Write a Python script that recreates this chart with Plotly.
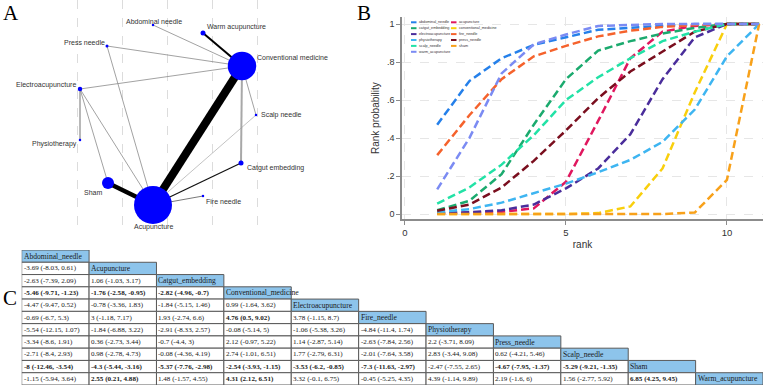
import plotly.graph_objects as go

W, H = 767, 387

def px(x):
    return x / W

def py(y):
    return 1 - y / H

# ---------------- Panel A: network ----------------
node_names = ["Abdominal needle", "Acupuncture", "Catgut embedding", "Conventional medicine",
              "Electroacupuncture", "Fire needle", "Physiotherapy", "Press needle",
              "Scalp needle", "Sham", "Warm acupuncture"]
node_x = [153, 153, 241, 242, 80, 203, 80, 107, 256, 108, 203]
node_y = [25, 205, 163, 66, 89, 196, 140, 46, 115, 183, 33]
node_size = [2.5, 38, 5, 28.5, 4.5, 2.5, 2.5, 3, 2.5, 12, 5]

edge_from = [3, 9, 10, 2, 3, 4, 0, 7, 7, 4, 4, 4, 3, 8, 5]
edge_to = [1, 1, 3, 1, 2, 6, 3, 3, 1, 3, 9, 1, 8, 1, 1]
edge_width = [8, 4.3, 2, 1.3, 2, 1.5, 0.8, 0.8, 0.8, 0.8, 0.8, 0.8, 0.8, 0.6, 0.8]
edge_color = ["#000000", "#000000", "#000000", "#111111", "#a8a8a8", "#a0a0a0", "#8a8a8a",
              "#8a8a8a", "#8a8a8a", "#8a8a8a", "#8a8a8a", "#8a8a8a", "#8a8a8a", "#9a9a9a", "#555555"]

label_anchor = ["center", "center", "left", "left", "right", "left", "right", "right", "left", "right", "left"]
label_dx = [1, 0, 4, 13, -2, 1, -1, 0, 3, -4, 2]
label_dy = [-4, 22, 5, -9, -4, 5, 4, -4, 0, 9, -6]

# ---------------- Panel B: rank probabilities ----------------
ranks = list(range(1, 12))
rank_names = ["abdominal_needle", "acupuncture", "catgut_embedding", "conventional_medicine",
              "electroacupuncture", "fire_needle", "physiotherapy", "press_needle",
              "scalp_needle", "sham", "warm_acupuncture"]
abdominal_needle = [0.47, 0.70, 0.82, 0.89, 0.93, 0.97, 0.98, 0.99, 1.0, 1.0, 1.0]
acupuncture = [0.003, 0.006, 0.012, 0.03, 0.17, 0.49, 0.82, 0.96, 0.99, 1.0, 1.0]
catgut_embedding = [0.02, 0.07, 0.21, 0.47, 0.71, 0.86, 0.91, 0.95, 0.98, 1.0, 1.0]
conventional_medicine = [0.0, 0.0, 0.0, 0.0, 0.0, 0.005, 0.04, 0.24, 0.64, 1.0, 1.0]
electroacupuncture = [0.005, 0.01, 0.02, 0.05, 0.135, 0.24, 0.42, 0.71, 0.93, 1.0, 1.0]
fire_needle = [0.31, 0.52, 0.71, 0.83, 0.885, 0.935, 0.965, 0.985, 0.995, 1.0, 1.0]
physiotherapy = [0.01, 0.026, 0.06, 0.11, 0.16, 0.22, 0.285, 0.38, 0.55, 0.83, 1.0]
press_needle = [0.017, 0.05, 0.14, 0.28, 0.44, 0.61, 0.75, 0.855, 0.96, 1.0, 1.0]
scalp_needle = [0.055, 0.14, 0.26, 0.415, 0.60, 0.72, 0.82, 0.91, 0.96, 1.0, 1.0]
sham = [0.0, 0.0, 0.0, 0.0, 0.0, 0.0, 0.0, 0.0, 0.008, 0.18, 1.0]
warm_acupuncture = [0.13, 0.40, 0.74, 0.893, 0.945, 0.99, 0.995, 1.0, 1.0, 1.0, 1.0]
rank_series = [abdominal_needle, acupuncture, catgut_embedding, conventional_medicine,
               electroacupuncture, fire_needle, physiotherapy, press_needle,
               scalp_needle, sham, warm_acupuncture]
rank_colors = ["#2580EA", "#E0175E", "#1BAA6E", "#F9CF0C", "#4A2D9B", "#F5622C",
               "#3EB5F1", "#7A0E1E", "#22E2A6", "#F8A11A", "#7B8BF3"]
y_tickvals = [0, 0.2, 0.4, 0.6, 0.8, 1]
y_ticktext = ["0", ".2", ".4", ".6", ".8", "1"]
x_tickvals = [0, 5, 10]

# ---------------- Panel C: league table ----------------
league_names = ["Abdominal_needle", "Acupuncture", "Catgut_embedding", "Conventional_medicine",
                "Electroacupuncture", "Fire_needle", "Physiotherapy", "Press_needle",
                "Scalp_needle", "Sham", "Warm_acupuncture"]
league_rows = [
    [],
    ["-3.69 (-8.03, 0.61)"],
    ["-2.63 (-7.39, 2.09)", "1.06 (-1.03, 3.17)"],
    ["-5.46 (-9.71, -1.23)", "-1.76 (-2.58, -0.95)", "-2.82 (-4.96, -0.7)"],
    ["-4.47 (-9.47, 0.52)", "-0.78 (-3.36, 1.83)", "-1.84 (-5.15, 1.46)", "0.99 (-1.64, 3.62)"],
    ["-0.69 (-6.7, 5.3)", "3 (-1.18, 7.17)", "1.93 (-2.74, 6.6)", "4.76 (0.5, 9.02)", "3.78 (-1.15, 8.7)"],
    ["-5.54 (-12.15, 1.07)", "-1.84 (-6.88, 3.22)", "-2.91 (-8.33, 2.57)", "-0.08 (-5.14, 5)",
     "-1.06 (-5.38, 3.26)", "-4.84 (-11.4, 1.74)"],
    ["-3.34 (-8.6, 1.91)", "0.36 (-2.73, 3.44)", "-0.7 (-4.4, 3)", "2.12 (-0.97, 5.22)",
     "1.14 (-2.87, 5.14)", "-2.63 (-7.84, 2.56)", "2.2 (-3.71, 8.09)"],
    ["-2.71 (-8.4, 2.93)", "0.98 (-2.78, 4.73)", "-0.08 (-4.36, 4.19)", "2.74 (-1.01, 6.51)",
     "1.77 (-2.79, 6.31)", "-2.01 (-7.64, 3.58)", "2.83 (-3.44, 9.08)", "0.62 (-4.21, 5.46)"],
    ["-8 (-12.46, -3.54)", "-4.3 (-5.44, -3.16)", "-5.37 (-7.76, -2.98)", "-2.54 (-3.93, -1.15)",
     "-3.53 (-6.2, -0.85)", "-7.3 (-11.63, -2.97)", "-2.47 (-7.55, 2.65)", "-4.67 (-7.95, -1.37)",
     "-5.29 (-9.21, -1.35)"],
    ["-1.15 (-5.94, 3.64)", "2.55 (0.21, 4.88)", "1.48 (-1.57, 4.55)", "4.31 (2.12, 6.51)",
     "3.32 (-0.1, 6.75)", "-0.45 (-5.25, 4.35)", "4.39 (-1.14, 9.89)", "2.19 (-1.6, 6)",
     "1.56 (-2.77, 5.92)", "6.85 (4.25, 9.45)"],
]

fig = go.Figure()

# --- Panel A traces
for f, t, w, c in zip(edge_from, edge_to, edge_width, edge_color):
    fig.add_trace(go.Scatter(x=[node_x[f], node_x[t]], y=[node_y[f], node_y[t]], mode="lines",
                             line=dict(color=c, width=w), xaxis="x2", yaxis="y2",
                             hoverinfo="skip", showlegend=False))
fig.add_trace(go.Scatter(x=node_x, y=node_y, mode="markers",
                         marker=dict(size=node_size, color="#0000FF", opacity=1, line=dict(width=0)),
                         text=node_names, xaxis="x2", yaxis="y2", showlegend=False))

annotations = []
shapes = []
for i, name in enumerate(node_names):
    annotations.append(dict(x=node_x[i], y=node_y[i], xref="x2", yref="y2", text=name,
                            showarrow=False, xanchor=label_anchor[i], yanchor="middle",
                            xshift=label_dx[i], yshift=-label_dy[i],
                            font=dict(family="Liberation Sans", size=7, color="#333333")))

# --- Panel B traces
for name, vals, col in zip(rank_names, rank_series, rank_colors):
    fig.add_trace(go.Scatter(x=ranks, y=vals, mode="lines", name=name,
                             line=dict(color=col, width=2.5, dash="8px,4px"),
                             xaxis="x", yaxis="y", showlegend=False))

# manual compact legend (two columns)
for k, (name, col) in enumerate(zip(rank_names, rank_colors)):
    c, r = k % 2, k // 2
    sx = 411 + c * 40
    sy = 22.3 + r * 5.9
    shapes.append(dict(type="line", xref="paper", yref="paper", x0=px(sx), x1=px(sx + 5.5),
                       y0=py(sy), y1=py(sy), line=dict(color=col, width=2)))
    annotations.append(dict(x=px(sx + 5.5), y=py(sy), xref="paper", yref="paper", text=name,
                            showarrow=False, xanchor="left", yanchor="middle",
                            font=dict(family="Liberation Sans", size=3.7, color="#333333")))

# --- Panel C table
def is_sig(s):
    inner = s[s.index("(") + 1:s.index(")")]
    lo, hi = [float(v) for v in inner.split(",")]
    return lo * hi > 0

for i in range(len(league_names)):
    for j in range(i + 1):
        diag = (i == j)
        shapes.append(dict(type="rect", xref="x3", yref="y3", x0=j, x1=j + 1, y0=i, y1=i + 1,
                           fillcolor="#8DC4EB" if diag else "#FFFFFF",
                           line=dict(color="#5a5a5a", width=1), layer="below"))
        if diag:
            txt = league_names[i]
            fsize = 7.6
        else:
            s = league_rows[i][j]
            txt = "<b>" + s + "</b>" if is_sig(s) else s
            fsize = 7.1
        annotations.append(dict(x=j, y=i + 0.5, xref="x3", yref="y3", text=txt, showarrow=False,
                                xanchor="left", yanchor="middle", xshift=0,
                                font=dict(family="Liberation Serif", size=fsize, color="#1a1a1a")))

# panel letters
for letter, lx, ly in [("A", 11, 13), ("B", 364, 13), ("C", 10, 298)]:
    annotations.append(dict(x=px(lx), y=py(ly), xref="paper", yref="paper", text=letter,
                            showarrow=False, xanchor="center", yanchor="middle",
                            font=dict(family="Liberation Serif", size=21, color="#000000")))

# y title for B
annotations.append(dict(x=px(376), y=py(118), xref="paper", yref="paper", text="Rank probability",
                        showarrow=False, textangle=-90, xanchor="center", yanchor="middle",
                        font=dict(family="Liberation Sans", size=10, color="#333333")))

fig.update_layout(
    width=W, height=H, margin=dict(l=0, r=0, t=0, b=0),
    paper_bgcolor="white", plot_bgcolor="white", showlegend=False,
    xaxis=dict(domain=[px(402), px(763)], range=[-0.093, 11.12], tickvals=x_tickvals,
               showline=True, linecolor="#8c8c8c", linewidth=1.5, ticks="outside", ticklen=4,
               tickcolor="#8c8c8c", tickfont=dict(family="Liberation Sans", size=9.5, color="#333"),
               showgrid=True, gridcolor="#e6e6e6", griddash="dash", zeroline=False,
               title=dict(text="rank", font=dict(family="Liberation Sans", size=10, color="#333"),
                          standoff=4),
               anchor="y"),
    yaxis=dict(domain=[py(219), py(17)], range=[-0.026, 1.037], tickvals=y_tickvals,
               ticktext=y_ticktext, showline=True, linecolor="#8c8c8c", linewidth=1.5,
               ticks="outside", ticklen=4, tickcolor="#8c8c8c",
               tickfont=dict(family="Liberation Sans", size=9, color="#333"),
               showgrid=True, gridcolor="#e6e6e6", griddash="dash", zeroline=False, anchor="x"),
    xaxis2=dict(domain=[0, px(380)], range=[0, 380], tickvals=[77, 122, 167, 212, 257],
                showticklabels=False, ticks="", showgrid=True, gridcolor="#dcdcdc",
                griddash="dash", gridwidth=0.8, zeroline=False, showline=False, anchor="y2"),
    yaxis2=dict(domain=[py(230), 1], range=[230, 0], showgrid=False, showticklabels=False,
                zeroline=False, showline=False, anchor="x2"),
    xaxis3=dict(domain=[px(21.7), px(763)], range=[0, 11], visible=False, anchor="y3"),
    yaxis3=dict(domain=[py(385), py(250)], range=[11, 0], visible=False, anchor="x3"),
    annotations=annotations, shapes=shapes,
)

fig.write_html("out.html")
